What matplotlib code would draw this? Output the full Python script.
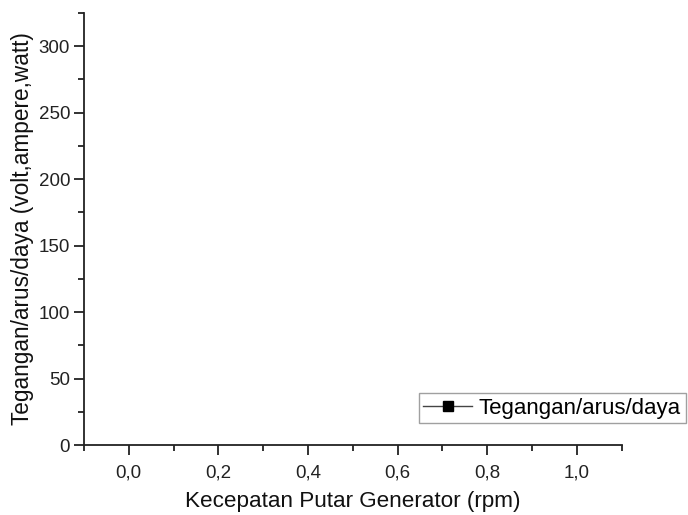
import matplotlib.pyplot as plt
from matplotlib.ticker import MultipleLocator, FuncFormatter

plt.rcParams['font.family'] = ['Liberation Sans', 'DejaVu Sans']

# the chart has no plotted points, only the legend entry
kecepatan = []
tegangan = []
label_seri = 'Tegangan/arus/daya'

fig = plt.figure(figsize=(6.88, 5.15), dpi=100)
ax = fig.add_axes([0.1221, 0.1359, 0.7815, 0.8389])

ax.plot(kecepatan, tegangan, '-s', color='black', markersize=7, lw=1,
        label=label_seri)

ax.set_xlim(-0.1, 1.1)
ax.set_ylim(0, 325)
ax.xaxis.set_major_locator(MultipleLocator(0.2))
ax.xaxis.set_minor_locator(MultipleLocator(0.1))
ax.yaxis.set_major_locator(MultipleLocator(50))
ax.yaxis.set_minor_locator(MultipleLocator(25))
ax.xaxis.set_major_formatter(FuncFormatter(lambda v, p: ('%.1f' % v).replace('.', ',')))

for s in ['top', 'right']:
    ax.spines[s].set_visible(False)
for s in ['left', 'bottom']:
    ax.spines[s].set_linewidth(1.3)
    ax.spines[s].set_color('#222222')

ax.tick_params(which='major', direction='out', length=7, width=1.3, labelsize=13.5,
               color='#222222', labelcolor='#222222', pad=3)
ax.tick_params(axis='x', which='major', pad=7)
ax.tick_params(which='minor', direction='out', length=4, width=1.3, color='#222222')

ax.set_xlabel('Kecepatan Putar Generator (rpm)', fontsize=16.2, labelpad=7, color='#111111')
ax.set_ylabel('Tegangan/arus/daya (volt,ampere,watt)', fontsize=16.3, labelpad=3, color='#111111')

leg = ax.legend(loc='lower left', bbox_to_anchor=(0.623, 0.051), fontsize=16,
                frameon=True, fancybox=False, handlelength=2.2, borderpad=0.2,
                handletextpad=0.3, borderaxespad=0)
leg.get_frame().set_edgecolor('#888888')
leg.get_frame().set_linewidth(1.0)
leg.legend_handles[0].set_color('#444444')
leg.legend_handles[0].set_markerfacecolor('black')
leg.legend_handles[0].set_markeredgecolor('black')

fig.savefig('out.png', dpi=100)
